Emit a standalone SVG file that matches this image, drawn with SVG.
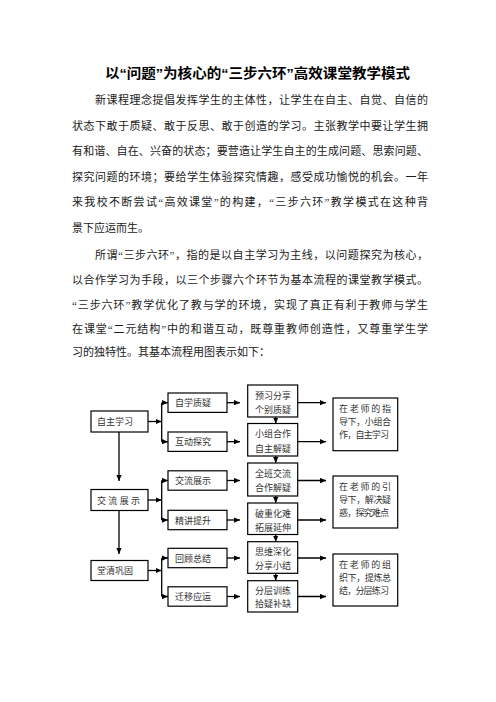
<svg xmlns="http://www.w3.org/2000/svg" width="496" height="702" viewBox="0 0 496 702">
<style>
.title{font-family:"Liberation Sans","Noto Sans CJK SC",sans-serif;font-size:13.5px;font-weight:bold;fill:#000}
.body{font-family:"Liberation Serif","Noto Sans CJK SC",serif;font-size:11px;fill:#1a1a1a}
.bx{fill:#fff;stroke:#000;stroke-width:1.2}
.t{font-family:"Liberation Serif","Noto Sans CJK SC",serif;font-size:9px;fill:#333}
.ln{stroke:#000;stroke-width:1.3;fill:none}
.ar{stroke:#000;stroke-width:1.3;fill:none;marker-end:url(#ah)}
</style>
<defs>
<marker id="ah" viewBox="0 0 8 8" refX="8" refY="4" markerWidth="6" markerHeight="6" markerUnits="userSpaceOnUse" orient="auto">
<path d="M0,0.5 L8,4 L0,7.5z" fill="#000"/>
</marker>
</defs>
<rect width="496" height="702" fill="#fff"/>
<g id="text">
<text class="title" x="105" y="78" textLength="305" lengthAdjust="spacingAndGlyphs">以“问题”为核心的“三步六环”高效课堂教学模式</text>
<text class="body" x="95" y="104.4" textLength="333" lengthAdjust="spacing">新课程理念提倡发挥学生的主体性，让学生在自主、自觉、自信的</text>
<text class="body" x="72" y="129.8" textLength="356" lengthAdjust="spacing">状态下敢于质疑、敢于反思、敢于创造的学习。主张教学中要让学生拥</text>
<text class="body" x="72" y="155.2" textLength="356" lengthAdjust="spacing">有和谐、自在、兴奋的状态；要营造让学生自主的生成问题、思索问题、</text>
<text class="body" x="72" y="180.8" textLength="356" lengthAdjust="spacing">探究问题的环境；要给学生体验探究情趣，感受成功愉悦的机会。一年</text>
<text class="body" x="72" y="206.4" textLength="356" lengthAdjust="spacing">来我校不断尝试“高效课堂”的构建，“三步六环”教学模式在这种背</text>
<text class="body" x="72" y="232">景下应运而生。</text>
<text class="body" x="95" y="259.4" textLength="333" lengthAdjust="spacing">所谓“三步六环”，指的是以自主学习为主线，以问题探究为核心，</text>
<text class="body" x="72" y="284.4" textLength="356" lengthAdjust="spacing">以合作学习为手段，以三个步骤六个环节为基本流程的课堂教学模式。</text>
<text class="body" x="72" y="308.8" textLength="356" lengthAdjust="spacing">“三步六环”教学优化了教与学的环境，实现了真正有利于教师与学生</text>
<text class="body" x="72" y="332.8" textLength="356" lengthAdjust="spacing">在课堂“二元结构”中的和谐互动，既尊重教师创造性，又尊重学生学</text>
<text class="body" x="72" y="356.4">习的独特性。其基本流程用图表示如下：</text>
</g>
<g id="connectors">
<line class="ar" x1="148" y1="421.5" x2="161.7" y2="421.5"/>
<line class="ln" x1="161.7" y1="402.7" x2="161.7" y2="441.7"/>
<line class="ar" x1="161.7" y1="402.7" x2="168" y2="402.7"/>
<line class="ar" x1="161.7" y1="441.7" x2="168" y2="441.7"/>
<line class="ar" x1="227" y1="402.7" x2="240" y2="402.7"/>
<line class="ar" x1="227" y1="441.7" x2="240" y2="441.7"/>
<line class="ar" x1="247.7" y1="402.7" x2="326" y2="402.7"/>
<line class="ar" x1="247.7" y1="441.7" x2="326" y2="441.7"/>

<line class="ar" x1="148" y1="500" x2="161.7" y2="500"/>
<line class="ln" x1="161.7" y1="480.5" x2="161.7" y2="520"/>
<line class="ar" x1="161.7" y1="480.5" x2="168" y2="480.5"/>
<line class="ar" x1="161.7" y1="520" x2="168" y2="520"/>
<line class="ar" x1="227" y1="480.5" x2="240" y2="480.5"/>
<line class="ar" x1="227" y1="520" x2="240" y2="520"/>
<line class="ar" x1="247.7" y1="480.5" x2="326" y2="480.5"/>
<line class="ar" x1="247.7" y1="520" x2="326" y2="520"/>

<line class="ar" x1="148" y1="570.5" x2="161.7" y2="570.5"/>
<line class="ln" x1="161.7" y1="558" x2="161.7" y2="596.5"/>
<line class="ar" x1="161.7" y1="558" x2="168" y2="558"/>
<line class="ar" x1="161.7" y1="596.5" x2="168" y2="596.5"/>
<line class="ar" x1="227" y1="558" x2="240" y2="558"/>
<line class="ar" x1="227" y1="596.5" x2="240" y2="596.5"/>
<line class="ar" x1="247.7" y1="558" x2="326" y2="558"/>
<line class="ar" x1="247.7" y1="596.5" x2="326" y2="596.5"/>

<line class="ar" x1="119" y1="432" x2="119" y2="481"/>
<line class="ar" x1="119" y1="510.5" x2="119" y2="554"/>

<line class="ar" x1="275.7" y1="417" x2="275.7" y2="423.5"/>
<line class="ar" x1="275.7" y1="456" x2="275.7" y2="463"/>
<line class="ar" x1="275.7" y1="496" x2="275.7" y2="503"/>
<line class="ar" x1="275.7" y1="534.5" x2="275.7" y2="541.7"/>
<line class="ar" x1="275.7" y1="573.3" x2="275.7" y2="580.7"/>
</g>
<g id="n_zizhu"><rect class="bx" x="91" y="411" width="57" height="21"/><text class="t" x="97" y="425">自主学习</text></g>
<g id="n_jiaoliu"><rect class="bx" x="91" y="489.5" width="57" height="21"/><text class="t" x="97" y="503.5" textLength="43" lengthAdjust="spacing">交流展示</text></g>
<g id="n_tangqing"><rect class="bx" x="91" y="560.5" width="57" height="20"/><text class="t" x="97" y="574">堂清巩固</text></g>

<g id="n_zixue"><rect class="bx" x="168" y="393" width="59" height="19.4"/><text class="t" x="175" y="406.2">自学质疑</text></g>
<g id="n_hudong"><rect class="bx" x="168" y="432" width="59" height="19.4"/><text class="t" x="175" y="445.2">互动探究</text></g>
<g id="n_jiaoliu2"><rect class="bx" x="168" y="470.8" width="59" height="19.4"/><text class="t" x="175" y="484">交流展示</text></g>
<g id="n_jingjiang"><rect class="bx" x="168" y="510.3" width="59" height="19.4"/><text class="t" x="175" y="523.5">精讲提升</text></g>
<g id="n_huigu"><rect class="bx" x="168" y="548.3" width="59" height="19.4"/><text class="t" x="175" y="561.5">回顾总结</text></g>
<g id="n_qianyi"><rect class="bx" x="168" y="586.8" width="59" height="19.4"/><text class="t" x="175" y="600">迁移应运</text></g>

<g id="n_s1"><rect class="bx" x="247.7" y="385" width="50" height="32" fill="none"/><text class="t" x="255" y="398.5">预习分享</text><text class="t" x="255" y="413">个别质疑</text></g>
<g id="n_s2"><rect class="bx" x="247.7" y="423.5" width="50" height="32.5"/><text class="t" x="255" y="437">小组合作</text><text class="t" x="255" y="452">自主解疑</text></g>
<g id="n_s3"><rect class="bx" x="247.7" y="463" width="50" height="33"/><text class="t" x="255" y="476.5">全班交流</text><text class="t" x="255" y="491">合作解疑</text></g>
<g id="n_s4"><rect class="bx" x="247.7" y="503" width="50" height="31.5"/><text class="t" x="255" y="516.5">破重化难</text><text class="t" x="255" y="530.5">拓展延伸</text></g>
<g id="n_s5"><rect class="bx" x="247.7" y="541.7" width="50" height="31.6"/><text class="t" x="255" y="555">思维深化</text><text class="t" x="255" y="568.5">分享小结</text></g>
<g id="n_s6"><rect class="bx" x="247.7" y="580.7" width="50" height="31.3"/><text class="t" x="255" y="594">分层训练</text><text class="t" x="255" y="607">拾疑补缺</text></g>

<g id="n_r1"><rect class="bx" x="333" y="398" width="64.7" height="52.7"/>
<text class="t" x="339" y="412" textLength="52" lengthAdjust="spacing">在老师的指</text>
<text class="t" x="339" y="425" textLength="52" lengthAdjust="spacing">导下，小组合</text>
<text class="t" x="339" y="438" textLength="50" lengthAdjust="spacing">作，自主学习</text></g>
<g id="n_r2"><rect class="bx" x="333" y="476" width="64.7" height="52"/>
<text class="t" x="339" y="489.5" textLength="52" lengthAdjust="spacing">在老师的引</text>
<text class="t" x="339" y="502.5" textLength="52" lengthAdjust="spacing">导下，解决疑</text>
<text class="t" x="339" y="515.5" textLength="50" lengthAdjust="spacing">惑，探究难点</text></g>
<g id="n_r3"><rect class="bx" x="333" y="554" width="64.7" height="52"/>
<text class="t" x="339" y="567.5" textLength="52" lengthAdjust="spacing">在老师的组</text>
<text class="t" x="339" y="580.5" textLength="52" lengthAdjust="spacing">织下，提炼总</text>
<text class="t" x="339" y="593.5" textLength="50" lengthAdjust="spacing">结，分层练习</text></g>
</svg>
